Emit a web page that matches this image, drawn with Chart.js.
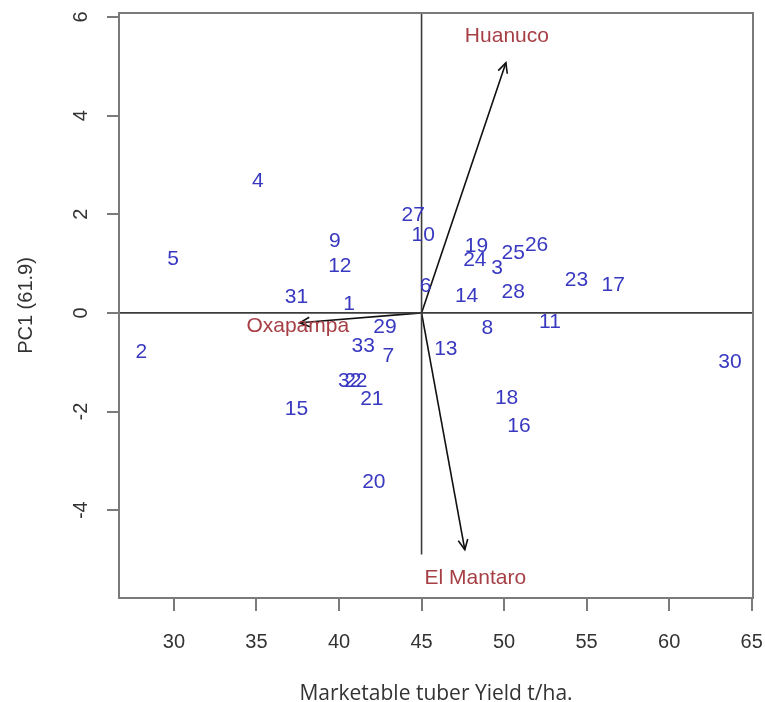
<!DOCTYPE html>
<html lang="en">
<head>
    <meta charset="UTF-8">
    <title>Biplot - Marketable tuber Yield</title>
    <script src="https://cdn.jsdelivr.net/npm/chart.js"></script>
    <style>
        body {
            margin: 0;
            padding: 0;
            background-color: #fff;
        }
        canvas {
            display: block;
        }
    </style>
</head>
<body>
    <canvas id="biplot" width="765" height="702"></canvas>

    <script>
        // genotype scores (x = yield, y = PC1)
        var genotypes = ['1', '2', '3', '4', '5', '6', '7', '8', '9', '10', '11', '12', '13', '14', '15', '16', '17',
                         '18', '19', '20', '21', '22', '23', '24', '25', '26', '27', '28', '29', '30', '31', '32', '33'];
        var yieldValues = [40.61, 28.03, 49.58, 35.08, 29.95, 45.24, 42.98, 48.98, 39.75, 45.10, 52.78, 40.05, 46.47, 47.73, 37.42, 50.90, 56.61,
                           50.15, 48.33, 42.11, 41.99, 41.02, 54.39, 48.23, 50.55, 51.97, 44.49, 50.55, 42.78, 63.68, 37.42, 40.65, 41.46];
        var pc1Values = [0.17, -0.80, 0.91, 2.68, 1.08, 0.54, -0.87, -0.32, 1.45, 1.57, -0.19, 0.94, -0.74, 0.33, -1.96, -2.30, 0.57,
                         -1.72, 1.35, -3.43, -1.74, -1.39, 0.66, 1.07, 1.22, 1.38, 1.99, 0.41, -0.28, -1.00, 0.32, -1.39, -0.68];

        // environment vectors (start at the centre)
        var environments = ['Huanuco', 'El Mantaro', 'Oxapampa'];
        var envTipX = [50.11, 47.62, 37.62];
        var envTipY = [5.07, -4.80, -0.20];
        var envLabelX = [50.17, 48.26, 37.50];
        var envLabelY = [5.60, -5.38, -0.27];
        var centreX = 45;
        var centreY = 0;

        // axis ranges and ticks
        var xMin = 26.67, xMax = 65.08;
        var yMin = -5.78, yMax = 6.08;
        var vLineBottom = -4.9;

        var datasets = [];
        datasets.push({
            type: 'scatter',
            label: 'genotypes',
            data: yieldValues.map(function(v, i) { return {x: v, y: pc1Values[i]}; }),
            pointRadius: 0,
            pointHoverRadius: 0
        });
        // centre reference lines
        datasets.push({
            type: 'line', label: 'vline',
            data: [{x: centreX, y: yMax}, {x: centreX, y: vLineBottom}],
            borderColor: '#3c3c3c', borderWidth: 1.6, pointRadius: 0
        });
        datasets.push({
            type: 'line', label: 'hline',
            data: [{x: xMin, y: centreY}, {x: xMax, y: centreY}],
            borderColor: '#3c3c3c', borderWidth: 1.6, pointRadius: 0
        });
        for (var i = 0; i < environments.length; i++) {
            datasets.push({
                type: 'line', label: 'arrow-' + environments[i],
                data: [{x: centreX, y: centreY}, {x: envTipX[i], y: envTipY[i]}],
                borderColor: '#111', borderWidth: 1.6, pointRadius: 0
            });
        }

        var biplotText = {
            id: 'biplotText',
            afterDatasetsDraw: function(chart) {
                var ctx = chart.ctx;
                var xs = chart.scales.x;
                var ys = chart.scales.y;
                var area = chart.chartArea;
                ctx.save();

                // arrow heads
                chart.data.datasets.forEach(function(ds, di) {
                    if (ds.label.indexOf('arrow-') !== 0) return;
                    var pts = chart.getDatasetMeta(di).data;
                    var a = pts[0], b = pts[1];
                    var ang = Math.atan2(b.y - a.y, b.x - a.x);
                    var len = 11, spread = 0.45;
                    ctx.strokeStyle = '#111';
                    ctx.lineWidth = 1.6;
                    ctx.beginPath();
                    ctx.moveTo(b.x - len * Math.cos(ang - spread), b.y - len * Math.sin(ang - spread));
                    ctx.lineTo(b.x, b.y);
                    ctx.lineTo(b.x - len * Math.cos(ang + spread), b.y - len * Math.sin(ang + spread));
                    ctx.stroke();
                });

                // genotype numbers
                var meta = chart.getDatasetMeta(0);
                ctx.font = '21px Arial, "Liberation Sans", sans-serif';
                ctx.fillStyle = '#3838c0';
                ctx.textAlign = 'center';
                ctx.textBaseline = 'middle';
                meta.data.forEach(function(p, i) {
                    ctx.fillText(genotypes[i], p.x, p.y);
                });

                // environment labels
                ctx.fillStyle = '#a63f45';
                environments.forEach(function(name, i) {
                    ctx.fillText(name, xs.getPixelForValue(envLabelX[i]), ys.getPixelForValue(envLabelY[i]));
                });

                // box round the plot
                ctx.strokeStyle = '#7a7a7a';
                ctx.lineWidth = 2;
                ctx.strokeRect(area.left, area.top, area.right - area.left, area.bottom - area.top);

                // y tick labels, parallel to the axis like base R
                ctx.font = '20px Arial, "Liberation Sans", sans-serif';
                ctx.fillStyle = '#333';
                ys.ticks.forEach(function(t) {
                    ctx.save();
                    ctx.translate(81, ys.getPixelForValue(t.value));
                    ctx.rotate(-Math.PI / 2);
                    ctx.fillText(String(t.value), 0, 0);
                    ctx.restore();
                });
                ctx.restore();
            }
        };

        var ctx = document.getElementById('biplot').getContext('2d');
        var biplot = new Chart(ctx, {
            type: 'scatter',
            data: { datasets: datasets },
            options: {
                responsive: false,
                animation: false,
                layout: { padding: { top: 13, right: 12, left: 0, bottom: 0 } },
                plugins: {
                    legend: { display: false },
                    tooltip: { enabled: false }
                },
                scales: {
                    x: {
                        type: 'linear',
                        min: xMin,
                        max: xMax,
                        afterFit: function(scale) {
                            scale.height = 104;
                            // keep the end labels from shrinking the plot box
                            scale.paddingLeft = 0;
                            scale.paddingRight = 0;
                        },
                        border: { display: false },
                        grid: { drawOnChartArea: false, drawTicks: true, tickLength: 13, color: '#7a7a7a', lineWidth: 2 },
                        ticks: {
                            stepSize: 5,
                            includeBounds: false,
                            maxRotation: 0,
                            padding: 19,
                            color: '#333',
                            font: { family: 'Arial, "Liberation Sans", sans-serif', size: 20 }
                        },
                        title: {
                            display: true,
                            text: 'Marketable tuber Yield t/ha.',
                            color: '#333',
                            padding: 0,
                            font: { family: '"Open Sans", sans-serif', size: 21, lineHeight: 0.8 }
                        }
                    },
                    y: {
                        type: 'linear',
                        min: yMin,
                        max: yMax,
                        afterFit: function(scale) { scale.width = 119; },
                        border: { display: false },
                        grid: { drawOnChartArea: false, drawTicks: true, tickLength: 12, color: '#7a7a7a', lineWidth: 2 },
                        ticks: {
                            stepSize: 2,
                            includeBounds: false,
                            display: false
                        },
                        title: {
                            display: true,
                            text: 'PC1 (61.9)',
                            color: '#333',
                            padding: { top: 16, bottom: 0 },
                            font: { family: 'Arial, "Liberation Sans", sans-serif', size: 20, lineHeight: 1.0 }
                        }
                    }
                }
            },
            plugins: [biplotText]
        });
    </script>
</body>
</html>
